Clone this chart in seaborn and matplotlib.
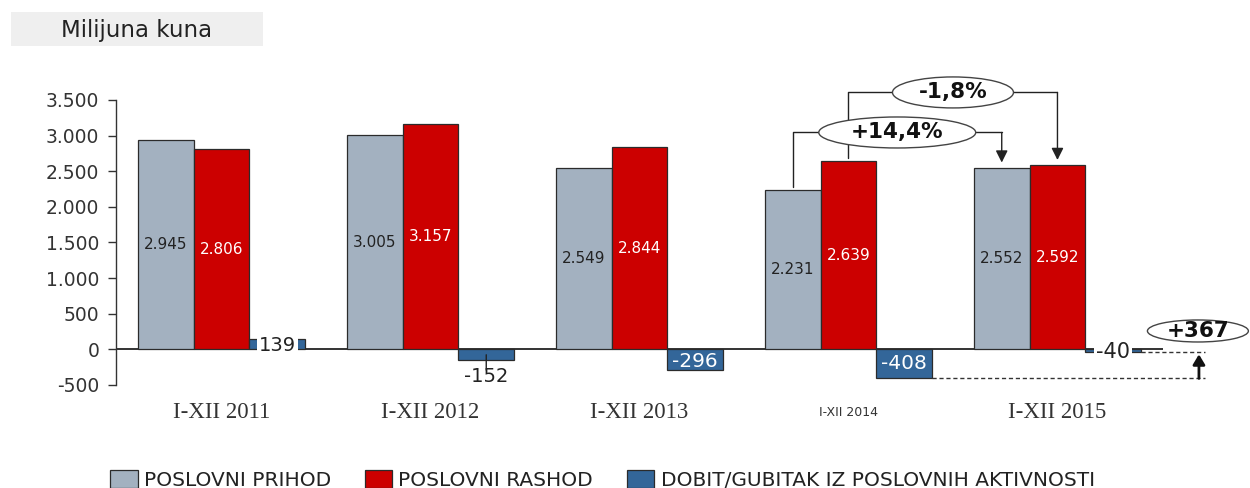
import numpy as np
import pandas as pd
import matplotlib
matplotlib.use("Agg")
import matplotlib.pyplot as plt
import seaborn as sns
from matplotlib.patches import Ellipse, Rectangle, Patch
from matplotlib.ticker import FuncFormatter

# ---------------- data ----------------
categories = ["I-XII 2011", "I-XII 2012", "I-XII 2013", "I-XII 2014", "I-XII 2015"]
series_names = ["POSLOVNI PRIHOD", "POSLOVNI RASHOD",
                "DOBIT/GUBITAK IZ POSLOVNIH AKTIVNOSTI"]
prihod = [2945, 3005, 2549, 2231, 2552]
rashod = [2806, 3157, 2844, 2639, 2592]
dobit = [139, -152, -296, -408, -40]
prihod_labels = ["2.945", "3.005", "2.549", "2.231", "2.552"]
rashod_labels = ["2.806", "3.157", "2.844", "2.639", "2.592"]
dobit_labels = ["139", "-152", "-296", "-408", "-40"]
yticks = [-500, 0, 500, 1000, 1500, 2000, 2500, 3000, 3500]
growth_prihod = "+14,4%"
growth_rashod = "-1,8%"
change_dobit = "+367"
unit_label = "Milijuna kuna"
colors = ["#A3B1C0", "#CC0000", "#336699"]

df = pd.DataFrame({
    "period": categories * 3,
    "series": [series_names[0]] * 5 + [series_names[1]] * 5 + [series_names[2]] * 5,
    "value": prihod + rashod + dobit,
})

# ---------------- figure ----------------
sns.set_style("white")
plt.rcParams["font.family"] = ["DejaVu Sans"]

fig = plt.figure(figsize=(12.5, 4.88), dpi=100)
ax = fig.add_axes([0.0928, 0.2111, 0.8376, 0.584])

sns.barplot(data=df, x="period", y="value", hue="series", order=categories,
            hue_order=series_names, palette=colors, saturation=1, width=0.8,
            edgecolor="#2b2b2b", linewidth=0.9, legend=False, ax=ax, zorder=2)

ax.set_xlim(-0.505, 4.505)
ax.set_ylim(-500, 3500)
ax.set_yticks(yticks)
ax.yaxis.set_major_formatter(FuncFormatter(lambda v, p: f"{int(v):,}".replace(",", ".")))
ax.set_xlabel("")
ax.set_ylabel("")
for s in ["top", "right", "bottom"]:
    ax.spines[s].set_visible(False)
ax.spines["left"].set_color("#333333")
ax.spines["left"].set_linewidth(1)
ax.tick_params(axis="y", direction="out", length=6, width=1, color="#333333",
               labelsize=13.5, labelcolor="#333333", pad=6, left=True)
ax.tick_params(axis="x", length=0, pad=19.5)
for i, lbl in enumerate(ax.get_xticklabels()):
    lbl.set_va("center")
    lbl.set_color("#333333")
    if i == 3:
        lbl.set_fontfamily("DejaVu Sans")
        lbl.set_fontsize(9)
    else:
        lbl.set_fontfamily("Liberation Serif")
        lbl.set_fontsize(16.5)

ax.axhline(0, color="#111111", lw=1.2, zorder=1.5)

gray_c, red_c, blue_c = ax.containers[0], ax.containers[1], ax.containers[2]

def cx(p):
    return p.get_x() + p.get_width() / 2

# value labels for revenue / expense
for i in range(5):
    pg, pr = gray_c[i], red_c[i]
    ax.text(cx(pg), prihod[i] / 2, prihod_labels[i], ha="center", va="center",
            fontsize=11, color="#222222", zorder=5)
    ax.text(cx(pr), rashod[i] / 2, rashod_labels[i], ha="center", va="center",
            fontsize=11, color="white", zorder=5)

# profit / loss labels
pb = blue_c
ax.annotate(dobit_labels[0], xy=(cx(pb[0]), 0), xytext=(0, 2.5),
            textcoords="offset points", ha="center", va="center", fontsize=14,
            color="#222222", zorder=6,
            bbox=dict(boxstyle="square,pad=0.1", fc="white", ec="none"))
ax.annotate("", xy=(cx(pb[1]), dobit[1] / 2), xytext=(0, -11),
            textcoords="offset points",
            arrowprops=dict(arrowstyle="-", color="#222222", lw=1, shrinkA=0, shrinkB=0),
            zorder=6)
ax.annotate(dobit_labels[1], xy=(cx(pb[1]), dobit[1]), xytext=(0, -16),
            textcoords="offset points", ha="center", va="baseline", fontsize=14,
            color="#222222", zorder=6)
ax.annotate(dobit_labels[2], xy=(cx(pb[2]), dobit[2] / 2), xytext=(0, -1),
            textcoords="offset points", ha="center", va="center", fontsize=14.5,
            color="white", zorder=6)
ax.annotate(dobit_labels[3], xy=(cx(pb[3]), dobit[3] / 2), xytext=(0, 0),
            textcoords="offset points", ha="center", va="center", fontsize=14.5,
            color="white", zorder=6)
ax.annotate(dobit_labels[4], xy=(cx(pb[4]), dobit[4] / 2), xytext=(0, -1),
            textcoords="offset points", ha="center", va="center", fontsize=15,
            color="#222222", zorder=6,
            bbox=dict(boxstyle="square,pad=0.1", fc="white", ec="none"))

# ---------------- growth annotations ----------------
line_kw = dict(color="#222222", lw=1, clip_on=False, zorder=7)
arrow_kw = dict(arrowstyle="-|>,head_length=0.6,head_width=0.3", color="#222222",
                lw=1, shrinkA=0, shrinkB=0, mutation_scale=12)

def growth(x0, y0, x1, y1, level, ew, text):
    xm = (x0 + x1) / 2
    ell = Ellipse((xm, level), ew, 435, fc="white", ec="#444444", lw=1,
                  clip_on=False, zorder=8)
    ax.add_patch(ell)
    ax.text(xm, level, text, ha="center", va="center", fontsize=15.5,
            fontweight="bold", color="#111111", zorder=9, clip_on=False)
    ax.plot([x0, x0, xm - ew / 2], [y0, level, level], **line_kw)
    ax.plot([xm + ew / 2, x1], [level, level], **line_kw)
    ax.annotate("", xy=(x1, y1), xytext=(x1, level), arrowprops=arrow_kw,
                annotation_clip=False, zorder=7)

growth(cx(gray_c[3]), prihod[3] + 45, cx(gray_c[4]), prihod[4] + 70, 3044, 0.751,
       growth_prihod)
growth(cx(red_c[3]), rashod[3] + 45, cx(red_c[4]), rashod[4] + 66, 3606, 0.579,
       growth_rashod)

# ---------------- profit change annotation ----------------
x_end = 4.706
x_arr = 4.677
dash_kw = dict(color="#333333", lw=1, ls=(0, (3, 2)), clip_on=False, zorder=3)
ax.plot([pb[3].get_x() + pb[3].get_width(), x_end], [dobit[3], dobit[3]], **dash_kw)
ax.plot([pb[4].get_x() + pb[4].get_width(), x_end], [dobit[4], dobit[4]], **dash_kw)
ax.annotate("", xy=(x_arr, dobit[4] - 30), xytext=(x_arr, dobit[3]),
            arrowprops=dict(arrowstyle="-|>,head_length=0.5,head_width=0.3",
                            color="#111111", lw=2, shrinkA=0, shrinkB=0,
                            mutation_scale=12),
            annotation_clip=False, zorder=7)
ell = Ellipse((4.672, 258), 0.483, 309, fc="white", ec="#444444", lw=1,
              clip_on=False, zorder=8)
ax.add_patch(ell)
ax.text(4.672, 258, change_dobit, ha="center", va="center", fontsize=15.5,
        fontweight="bold", color="#111111", zorder=9, clip_on=False)

# ---------------- unit label box ----------------
fig.patches.append(Rectangle((11 / 1250, 1 - 46 / 488), 252 / 1250, 34 / 488,
                             transform=fig.transFigure, fc="#EFEFEF", ec="none"))
fig.text(137 / 1250, 1 - 30 / 488, unit_label, ha="center", va="center",
         fontsize=16.5, color="#222222")

# ---------------- legend ----------------
handles = [Patch(fc=c, ec="#2b2b2b", lw=0.9) for c in colors]
fig.legend(handles, series_names, loc="center", bbox_to_anchor=(0.482, 1 - 480 / 488),
           ncol=3, frameon=False, fontsize=14.5, handlelength=1.35, handleheight=1.0,
           handletextpad=0.3, columnspacing=1.7, labelcolor="#222222")

fig.savefig("out.png", dpi=100)
